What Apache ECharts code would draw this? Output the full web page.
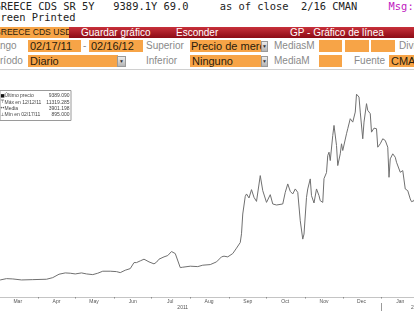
<!DOCTYPE html>
<html><head><meta charset="utf-8">
<script src="https://cdn.jsdelivr.net/npm/echarts@6/dist/echarts.min.js"></script>
<style>
body{margin:0;width:414px;height:311px;overflow:hidden;position:relative;background:#fff;font-family:"Liberation Sans",Arial,sans-serif}
#chart{position:absolute;left:-16px;top:0;width:455px;height:311px}
#hdr{position:absolute;left:0;top:0;width:414px;height:70px;background:#fff;z-index:2;overflow:hidden}
.t{position:absolute;white-space:pre}
.mono{font-family:"DejaVu Sans Mono",monospace;font-size:10.4px;color:#222;line-height:12px}
.lab{color:#8a8a8a;font-size:10px;line-height:12px}
.box{position:absolute;background:#f7a447;color:#2a1c0c;font-size:11px;line-height:12px;height:12px;overflow:hidden;white-space:pre;box-sizing:border-box;padding-left:2px}
.dd{position:absolute;height:11px;background:linear-gradient(#ececec,#b4b4b4);box-sizing:border-box;border:1px solid #9a9a9a;font-size:5px;line-height:9px;text-align:center;color:#333}
.bar{position:absolute;left:0;top:27px;width:414px;height:11px;background:linear-gradient(#c8303a,#8c0b15)}
.bt{color:#fff;font-size:10px;line-height:11px;top:27px}
.sep{position:absolute;left:0;top:69px;width:414px;height:1px;background:#d0d0d0}
</style></head>
<body>
<div id="chart"></div>
<div id="hdr">
  <div class="t mono" style="left:-5.5px;top:0">GREECE CDS SR 5Y   9389.1Y 69.0     as of close  2/16 CMAN     <span style="color:#c020c0">Msg:</span></div>
  <div class="t mono" style="left:-12px;top:11.4px">Screen Printed</div>
  <div class="bar"></div>
  <div class="box" style="left:0;top:27px;width:69px;height:11px;line-height:11px;font-size:8.6px;padding-left:0"><span style="position:relative;left:-6px">GREECE CDS USD SR 5Y</span></div>
  <div class="t bt" style="left:81px">Guardar gráfico</div>
  <div class="t bt" style="left:176px">Esconder</div>
  <div class="t bt" style="left:290px">GP - Gráfico de línea</div>

  <div class="t lab" style="left:-12.8px;top:40px">Rango</div>
  <div class="box" style="left:28px;top:40px;width:53px">02/17/11</div>
  <div class="t lab" style="left:83px;top:40px">-</div>
  <div class="box" style="left:89px;top:40px;width:54px">02/16/12</div>
  <div class="t lab" style="left:146px;top:40px">Superior</div>
  <div class="box" style="left:190px;top:40px;width:71px;padding-left:1px">Precio de mercado</div>
  <div class="dd" style="left:261px;top:40.5px;width:7px">▼</div>
  <div class="t lab" style="left:274px;top:40px">MediasM</div>
  <div class="box" style="left:319px;top:40px;width:23px"></div>
  <div class="box" style="left:345px;top:40px;width:24px"></div>
  <div class="box" style="left:371px;top:40px;width:24px"></div>
  <div class="t lab" style="left:399px;top:40px">Divisa</div>

  <div class="t lab" style="left:-12.2px;top:55px">Período</div>
  <div class="box" style="left:28px;top:55px;width:90px">Diario</div>
  <div class="dd" style="left:117px;top:55.5px;width:9px">▼</div>
  <div class="t lab" style="left:146px;top:55px">Inferior</div>
  <div class="box" style="left:190px;top:55px;width:71px">Ninguno</div>
  <div class="dd" style="left:261px;top:55.5px;width:7px">▼</div>
  <div class="t lab" style="left:274px;top:55px">MediaM</div>
  <div class="box" style="left:319px;top:55px;width:23px"></div>
  <div class="t lab" style="left:354px;top:55px">Fuente</div>
  <div class="box" style="left:389px;top:55px;width:30px">CMAN</div>
  <div class="sep"></div>
</div>
<script>
// ---- data ----
const dates = ['2011-02-17','2011-03-02','2011-03-07','2011-03-12','2011-03-19','2011-03-28','2011-04-08','2011-04-13','2011-04-18','2011-04-23',
'2011-04-27','2011-05-01','2011-05-06','2011-05-10','2011-05-15','2011-05-19','2011-05-23','2011-05-29','2011-06-03','2011-06-06',
'2011-06-10','2011-06-14','2011-06-17','2011-06-19','2011-06-22','2011-06-25','2011-06-29','2011-07-03','2011-07-05','2011-07-07',
'2011-07-11','2011-07-14','2011-07-17','2011-07-20','2011-07-24','2011-07-26','2011-08-01','2011-08-07','2011-08-11','2011-08-17',
'2011-08-22','2011-08-26','2011-08-28','2011-08-31','2011-09-04','2011-09-07','2011-09-10','2011-09-11','2011-09-12','2011-09-14',
'2011-09-15','2011-09-17','2011-09-19','2011-09-21','2011-09-23','2011-09-26','2011-09-28','2011-10-01','2011-10-02','2011-10-04',
'2011-10-06','2011-10-09','2011-10-10','2011-10-14','2011-10-16','2011-10-18','2011-10-20','2011-10-22','2011-10-24','2011-10-26',
'2011-10-28','2011-10-30','2011-10-31','2011-11-02','2011-11-03','2011-11-05','2011-11-06','2011-11-08','2011-11-10','2011-11-12',
'2011-11-13','2011-11-15','2011-11-16','2011-11-18','2011-11-19','2011-11-20','2011-11-21','2011-11-23','2011-11-24','2011-11-26',
'2011-11-27','2011-11-29','2011-11-30','2011-12-01','2011-12-04','2011-12-05','2011-12-07','2011-12-09','2011-12-11','2011-12-12',
'2011-12-14','2011-12-15','2011-12-17','2011-12-18','2011-12-20','2011-12-21','2011-12-23','2011-12-24','2011-12-26','2011-12-28',
'2011-12-29','2011-12-31','2012-01-02','2012-01-04','2012-01-06','2012-01-07','2012-01-08','2012-01-10','2012-01-12','2012-01-13',
'2012-01-14','2012-01-16','2012-01-18','2012-01-20','2012-01-22','2012-01-24','2012-01-25','2012-01-27','2012-02-16'];
const prices = [895,952,1025,1008,952,969,991,1081,1271,1344,
1327,1288,1344,1288,1249,1327,1439,1439,1417,1361,
1495,1585,1921,1921,2016,2111,1960,1848,1943,2111,
2240,2313,2537,2425,1641,1663,1719,1697,1775,1809,
1960,2240,2279,2240,2425,2727,3041,3528,4631,5617,
5751,5527,5992,5561,5337,6776,5936,5281,5337,5712,
5191,5135,5191,5191,5841,6311,5897,5751,6031,5841,
4256,3231,3511,5561,6031,6591,5656,5247,6031,5656,
5376,5281,6608,6944,7896,8081,7616,9016,9576,8456,
7336,7991,8551,8176,9111,9391,9951,9761,10321,11319.285,
11161,10321,8831,9761,10791,10416,10231,9201,9425,9391,
8361,8551,8831,8736,8361,6681,7711,7991,7801,7521,
7431,6961,7056,6031,5936,5471,5320,5376,9389.09];

const axisStart = '2011-02-17';
const axisEnd = '2012-02-16';
const monthStarts = ['2011-03-01','2011-04-01','2011-05-01','2011-06-01','2011-07-01','2011-08-01','2011-09-01','2011-10-01','2011-11-01','2011-12-01','2012-01-01','2012-02-01'];
const monthLabels = ['Mar','Apr','May','Jun','Jul','Aug','Sep','Oct','Nov','Dec','Jan'];
const monthLabelDates = ['2011-03-16','2011-04-16','2011-05-16','2011-06-16','2011-07-16','2011-08-16','2011-09-16','2011-10-16','2011-11-16','2011-12-16','2012-01-16'];
const yearLabels = ['2011','2012'];
const yearLabelDates = ['2011-07-26','2012-01-29'];
const yearBreaks = ['2012-01-01'];

const legendIcons = ['■','⊤','↔','⊥'];
const legendLabels = ['Último precio','Máx en 12/12/11','Media','Mín en 02/17/11'];
const legendValues = ['9389.090','11319.285','3901.198','895.000'];

// ---- build (x measured in days since axisStart) ----
const DAY = 86400000;
const t0 = (() => { const p = axisStart.split('-').map(Number); return Date.UTC(p[0], p[1]-1, p[2]); })();
const dn = s => { const p = s.split('-').map(Number); return Math.round((Date.UTC(p[0], p[1]-1, p[2]) - t0) / DAY); };
const seriesData = dates.map((d, i) => [dn(d), prices[i]]);
const mLab = monthLabelDates.map(dn);
const yLab = yearLabelDates.map(dn);
const near = (arr, v) => { let bi = 0, bd = Infinity; arr.forEach((a, i) => { const dd = Math.abs(a - v); if (dd < bd) { bd = dd; bi = i; } }); return bi; };

const legendText = legendIcons.map((ic, i) => '{i|' + ic + '}{l|' + legendLabels[i] + '}{v|' + legendValues[i] + '}').join('\n');

const chart = echarts.init(document.getElementById('chart'), null, {renderer: 'canvas'});
chart.setOption({
  animation: false,
  backgroundColor: '#fff',
  title: {
    text: legendText,
    left: 15.5, top: 90,
    padding: [3, 2, 3, 1],
    borderColor: '#9a9a9a', borderWidth: 1,
    backgroundColor: '#fff',
    textStyle: {
      fontFamily: 'Liberation Sans', fontSize: 5, fontWeight: 'normal', color: '#444', lineHeight: 6.1,
      rich: {
        i: {width: 4, fontSize: 4.5, lineHeight: 6.1, color: '#111', fontFamily: 'DejaVu Sans'},
        l: {width: 42, fontSize: 5, lineHeight: 6.1, color: '#444', fontFamily: 'Liberation Sans'},
        v: {width: 23, fontSize: 5, lineHeight: 6.1, color: '#444', align: 'right', fontFamily: 'Liberation Sans'}
      }
    }
  },
  grid: {left: 0, right: 0, top: 82, bottom: 14},
  xAxis: [{
    type: 'value', min: dn(axisStart), max: dn(axisEnd),
    axisLine: {show: true, lineStyle: {color: '#c4c4c4', width: 1}},
    axisTick: {show: true, customValues: monthStarts.map(dn), length: 1.5, lineStyle: {color: '#8a8a8a'}},
    axisLabel: {show: true, customValues: mLab, margin: 2, fontSize: 5, color: '#555', fontFamily: 'Liberation Sans',
      formatter: v => monthLabels[near(mLab, v)]},
    splitLine: {show: false}
  }, {
    type: 'value', min: dn(axisStart), max: dn(axisEnd), position: 'bottom', offset: 6,
    axisLine: {show: false},
    axisTick: {show: true, customValues: yearBreaks.map(dn), length: 8, lineStyle: {color: '#9a9a9a'}},
    axisLabel: {show: true, customValues: yLab, margin: 2, fontSize: 5, color: '#555', fontFamily: 'Liberation Sans',
      formatter: v => yearLabels[near(yLab, v)]},
    splitLine: {show: false}
  }],
  yAxis: {type: 'value', min: 0, max: 12000, show: false, splitLine: {show: false}},
  series: [{
    type: 'line', xAxisIndex: 0, data: seriesData, showSymbol: false, symbol: 'none',
    lineStyle: {color: '#707070', width: 1}, silent: true
  }]
});
</script>
</body></html>
